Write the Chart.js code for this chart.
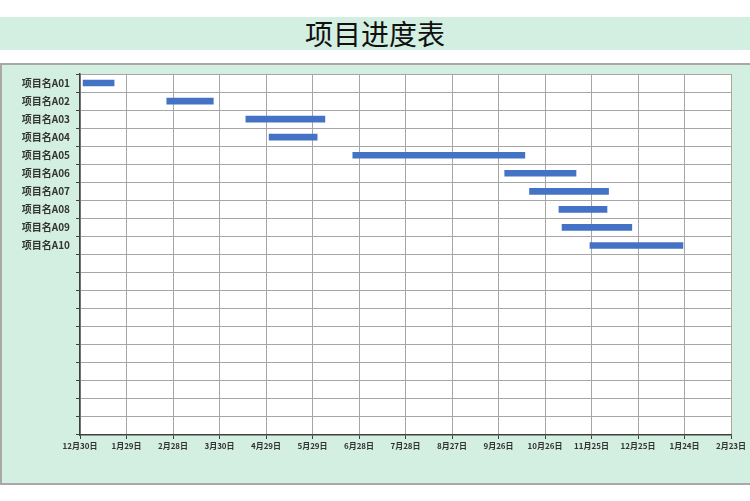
<!DOCTYPE html>
<html>
<head>
<meta charset="utf-8">
<script src="https://cdn.jsdelivr.net/npm/chart.js@4.4.1/dist/chart.umd.min.js"></script>
<style>
  html, body { margin: 0; padding: 0; background: #fff; }
  body { width: 750px; height: 501px; position: relative; overflow: hidden; }
  #title {
    position: absolute; left: 0; top: 17px; width: 750px; height: 33px;
    background: #d3efe1; text-align: center; line-height: 33px;
    font-family: "Noto Sans CJK SC", sans-serif; font-size: 28px; color: #111;
  }
  #box {
    position: absolute; left: 0; top: 63px; width: 750px; height: 422px;
    background: #d3efe1; border-top: 2px solid #a8a8a8; border-left: 2px solid #a8a8a8;
    border-bottom: 2px solid #a8a8a8; box-sizing: border-box;
  }
  #wrap { position: absolute; left: 0; top: 0; width: 750px; height: 501px; }
</style>
</head>
<body>
<div id="title">项目进度表</div>
<div id="box"></div>
<div id="wrap"><canvas id="chart"></canvas></div>
<script>
// days counted from 12月30日
const projects = ['项目名A01', '项目名A02', '项目名A03', '项目名A04', '项目名A05',
                  '项目名A06', '项目名A07', '项目名A08', '项目名A09', '项目名A10'];
const startDays = [2, 56, 107, 122, 176, 274, 290, 309, 311, 329];
const endDays   = [22, 86, 158, 153, 287, 320, 341, 340, 356, 389];
const xTickLabels = ['12月30日', '1月29日', '2月28日', '3月30日', '4月29日', '5月29日', '6月28日',
                     '7月28日', '8月27日', '9月26日', '10月26日', '11月25日', '12月25日', '1月24日', '2月23日'];
const emptyRows = 10;

const rowLabels = projects.concat(Array(emptyRows).fill(''));
const ranges = startDays.map((s, i) => [s, endDays[i]]);

const plotBg = {
  id: 'plotBg',
  beforeDraw(chart) {
    const a = chart.chartArea, c = chart.ctx;
    c.save();
    c.fillStyle = '#ffffff';
    c.fillRect(a.left, a.top, a.right - a.left, a.bottom - a.top);
    c.restore();
  }
};

new Chart(document.getElementById('chart'), {
  type: 'bar',
  data: {
    labels: rowLabels,
    datasets: [{
      data: ranges,
      backgroundColor: '#4472c4',
      borderWidth: 0,
      barThickness: 6
    }]
  },
  options: {
    indexAxis: 'y',
    responsive: true,
    maintainAspectRatio: false,
    animation: false,
    layout: { padding: { top: 74, right: 19, bottom: 0, left: 0 } },
    plugins: { legend: { display: false }, tooltip: { enabled: false }, title: { display: false } },
    scales: {
      x: {
        type: 'linear',
        min: 0,
        max: 420,
        afterFit(scale) { scale.height = 66; },
        ticks: {
          stepSize: 30,
          autoSkip: false,
          maxRotation: 0,
          padding: 2,
          color: '#333',
          font: { family: '"Noto Sans CJK SC", sans-serif', size: 8, weight: 'bold' },
          callback: (v, i) => xTickLabels[i]
        },
        grid: { color: '#a6a6a6', lineWidth: 1, tickLength: 4, tickColor: '#404040' },
        border: { color: '#404040', width: 1.5 }
      },
      y: {
        type: 'category',
        offset: true,
        afterFit(scale) { scale.width = 80; },
        ticks: {
          autoSkip: false,
          padding: 6,
          color: '#333',
          font: { family: '"Noto Sans CJK SC", sans-serif', size: 10, weight: 'bold' }
        },
        grid: { offset: true, color: '#a6a6a6', lineWidth: 1, tickLength: 4, tickColor: '#404040' },
        border: { color: '#404040', width: 1.5 }
      }
    }
  },
  plugins: [plotBg]
});
</script>
</body>
</html>
